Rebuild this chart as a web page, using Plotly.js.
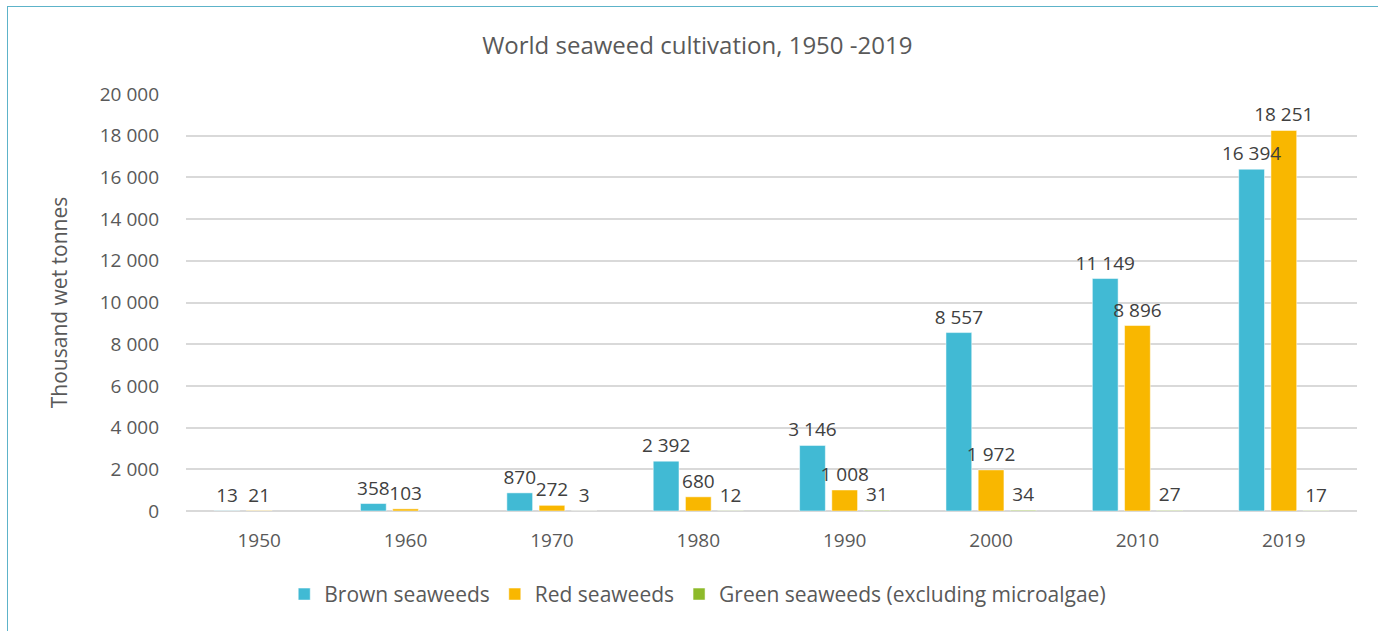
<!DOCTYPE html>
<html>
<head>
<meta charset="utf-8">
<script src="https://cdn.plot.ly/plotly-3.0.1.min.js"></script>
<style>
  html, body { margin: 0; padding: 0; background: #fff; }
  #wrap { position: relative; width: 1378px; height: 631px; }
  #chart { width: 1378px; height: 631px; }
  #frame { position: absolute; left: 7px; top: 6px; right: -2px; bottom: -2px;
           border-left: 1.5px solid #5DB3C9; border-top: 1.5px solid #5DB3C9;
           pointer-events: none; }
</style>
</head>
<body>
<div id="wrap">
  <div id="chart"></div>
  <div id="frame"></div>
</div>
<script>
const years = ["1950", "1960", "1970", "1980", "1990", "2000", "2010", "2019"];
const brown = [13, 358, 870, 2392, 3146, 8557, 11149, 16394];
const red = [21, 103, 272, 680, 1008, 1972, 8896, 18251];
const green = [null, null, 3, 12, 31, 34, 27, 17];
const yTicks = [0, 2000, 4000, 6000, 8000, 10000, 12000, 14000, 16000, 18000, 20000];

const fmt = v => (v === null ? "" : String(v).replace(/\B(?=(\d{3})+(?!\d))/g, " "));
const FONT = "Open Sans, Lato, sans-serif";
const GREY = "#595959";

function barTrace(name, vals, color, grp) {
  return {
    type: "bar", name: name, x: years, y: vals, offsetgroup: grp,
    marker: { color: color, line: { color: "rgba(255,255,255,0.5)", width: 1 } },
    hoverinfo: "x+y+name"
  };
}
function labelTrace(name, vals, grp) {
  return {
    type: "bar", name: name + " labels", x: years, y: vals, offsetgroup: grp,
    showlegend: false, hoverinfo: "skip",
    marker: { color: "rgba(0,0,0,0)", line: { width: 0 } },
    text: vals.map(fmt), textposition: "outside", cliponaxis: false,
    constraintext: "none",
    textfont: { family: FONT, size: 19, color: "#404040" }
  };
}

const data = [
  barTrace("Brown seaweeds", brown, "#41BAD4", "b"),
  barTrace("Red seaweeds", red, "#F9B700", "r"),
  barTrace("Green seaweeds (excluding microalgae)", green, "#8DBA2A", "g"),
  labelTrace("Brown seaweeds", brown, "b"),
  labelTrace("Red seaweeds", red, "r"),
  labelTrace("Green seaweeds", green, "g")
];

const layout = {
  width: 1378, height: 631,
  paper_bgcolor: "#ffffff", plot_bgcolor: "#ffffff",
  margin: { l: 186, r: 21, t: 94, b: 120 },
  font: { family: FONT, color: GREY },
  title: { text: "World seaweed cultivation, 1950 -2019", font: { family: FONT, size: 24, color: GREY },
           x: 0.506, xref: "container", xanchor: "center", y: 0.928, yref: "container", yanchor: "middle" },
  barmode: "group", bargap: 0.34, bargroupgap: 0.2,
  xaxis: { type: "category", tickfont: { family: FONT, size: 19, color: GREY },
           showgrid: false, showline: false, ticks: "", ticklabelstandoff: 16, zeroline: false },
  yaxis: { range: [0, 20000], tickvals: yTicks, ticktext: yTicks.map(fmt),
           tickfont: { family: FONT, size: 19, color: GREY },
           showgrid: true, gridcolor: "#D9D9D9", gridwidth: 2,
           zeroline: true, zerolinecolor: "#D9D9D9", zerolinewidth: 2,
           ticks: "", ticklabelstandoff: 26, showline: false,
           title: { text: "Thousand wet tonnes", font: { family: FONT, size: 21, color: GREY }, standoff: 26 } },
  legend: { orientation: "h", x: 0.437, xanchor: "center", y: -0.2, yanchor: "middle",
            font: { family: FONT, size: 21, color: GREY }, itemwidth: 30, tracegroupgap: 0 },
  showlegend: true
};

Plotly.newPlot("chart", data, layout, { displayModeBar: false, staticPlot: true });
</script>
</body>
</html>
